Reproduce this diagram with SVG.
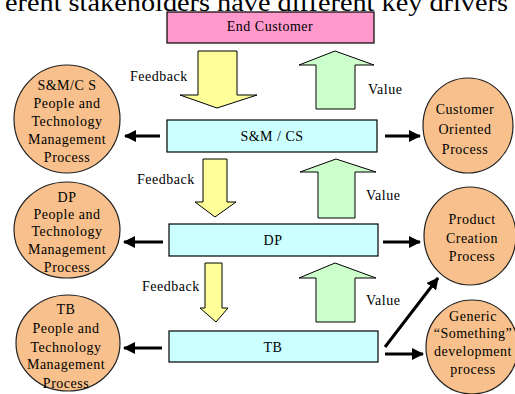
<svg xmlns="http://www.w3.org/2000/svg" width="515" height="394" viewBox="0 0 515 394">
<style>
text{font-family:"Liberation Serif","Times New Roman",serif;font-size:14px;letter-spacing:0.5px;fill:#000;text-anchor:middle}
.title{font-size:26px;letter-spacing:0;text-anchor:start}
.lbl{text-anchor:start}
.box{stroke:#000;stroke-width:1.2}
.circ{fill:#F8C08C;stroke:#222;stroke-width:1.2}
.down{fill:#FFFF99;stroke:#000;stroke-width:1}
.up{fill:#CCFFCC;stroke:#000;stroke-width:1}
.conn{stroke:#000;stroke-width:3;fill:none}
</style>
<defs>
<marker id="ah" markerUnits="userSpaceOnUse" markerWidth="12" markerHeight="12" refX="11" refY="6" orient="auto">
<path d="M0,0 L12,6 L0,12 Z" fill="#000"/>
</marker>
</defs>
<rect width="515" height="394" fill="#fff"/>
<text class="title" x="5" y="11" textLength="503" lengthAdjust="spacingAndGlyphs">erent stakeholders have different key drivers</text>

<g id="end-customer">
<rect class="box" x="167" y="12" width="207" height="31" fill="#FF99CC"/>
<text x="270" y="31">End Customer</text>
</g>
<g id="smcs">
<rect class="box" x="167" y="120" width="210" height="32" fill="#CCFFFF"/>
<text x="272" y="141">S&amp;M / CS</text>
</g>
<g id="dp">
<rect class="box" x="169" y="224" width="209" height="32" fill="#CCFFFF"/>
<text x="273" y="245">DP</text>
</g>
<g id="tb">
<rect class="box" x="169" y="331" width="209" height="31" fill="#CCFFFF"/>
<text x="273" y="352">TB</text>
</g>

<g id="smcs-ptm">
<ellipse class="circ" cx="67" cy="119" rx="53" ry="54"/>
<text x="67" y="90">S&amp;M/C S</text>
<text x="67" y="108">People and</text>
<text x="67" y="126">Technology</text>
<text x="67" y="144">Management</text>
<text x="67" y="162">Process</text>
</g>
<g id="customer-oriented">
<ellipse class="circ" cx="468" cy="125.5" rx="45" ry="47.5"/>
<text x="465" y="114">Customer</text>
<text x="465" y="134">Oriented</text>
<text x="465" y="154">Process</text>
</g>
<g id="dp-ptm">
<ellipse class="circ" cx="67" cy="230" rx="53" ry="48"/>
<text x="67" y="202">DP</text>
<text x="67" y="219">People and</text>
<text x="67" y="236">Technology</text>
<text x="67" y="254">Management</text>
<text x="67" y="272">Process</text>
</g>
<g id="product-creation">
<ellipse class="circ" cx="470" cy="236" rx="46" ry="49"/>
<text x="472" y="224">Product</text>
<text x="472" y="243">Creation</text>
<text x="472" y="261">Process</text>
</g>
<g id="tb-ptm">
<ellipse class="circ" cx="68" cy="343" rx="52" ry="48"/>
<text x="66" y="314">TB</text>
<text x="66" y="333">People and</text>
<text x="66" y="352">Technology</text>
<text x="66" y="369">Management</text>
<text x="66" y="388">Process</text>
</g>
<g id="generic">
<ellipse class="circ" cx="472" cy="347" rx="46" ry="47"/>
<text x="473" y="321">Generic</text>
<text x="473" y="338">“Something”</text>
<text x="473" y="356">development</text>
<text x="473" y="374">process</text>
</g>

<g id="connectors">
<polygon class="down" points="198,51 237,51 237,95 257,95 217,108 180,95 198,95"/>
<polygon class="up" points="335,51 374,65 355,65 355,109 316,109 316,65 299,65"/>
<polygon class="down" points="203,159 227,159 227,202 236,202 215,217 195,202 203,202"/>
<polygon class="up" points="336,159 376,172 355,172 355,218 318,218 318,172 300,172"/>
<polygon class="down" points="205,263 222,263 222,308 228,308 216,322 200,308 205,308"/>
<polygon class="up" points="335,263 376,278 355,278 355,322 316,322 316,278 299,278"/>
<line class="conn" x1="160" y1="136" x2="125" y2="136" marker-end="url(#ah)"/>
<line class="conn" x1="385" y1="136" x2="420" y2="136" marker-end="url(#ah)"/>
<line class="conn" x1="163" y1="242" x2="124" y2="242" marker-end="url(#ah)"/>
<line class="conn" x1="383" y1="242" x2="420" y2="242" marker-end="url(#ah)"/>
<line class="conn" x1="162" y1="348" x2="124" y2="348" marker-end="url(#ah)"/>
<line class="conn" x1="385" y1="354" x2="423" y2="354" marker-end="url(#ah)"/>
<line class="conn" x1="385" y1="347" x2="438" y2="278" marker-end="url(#ah)"/>
<text class="lbl" x="130" y="81">Feedback</text>
<text class="lbl" x="368" y="94">Value</text>
<text class="lbl" x="137" y="184">Feedback</text>
<text class="lbl" x="366" y="200">Value</text>
<text class="lbl" x="142" y="291">Feedback</text>
<text class="lbl" x="366" y="305">Value</text>
</g>
</svg>
